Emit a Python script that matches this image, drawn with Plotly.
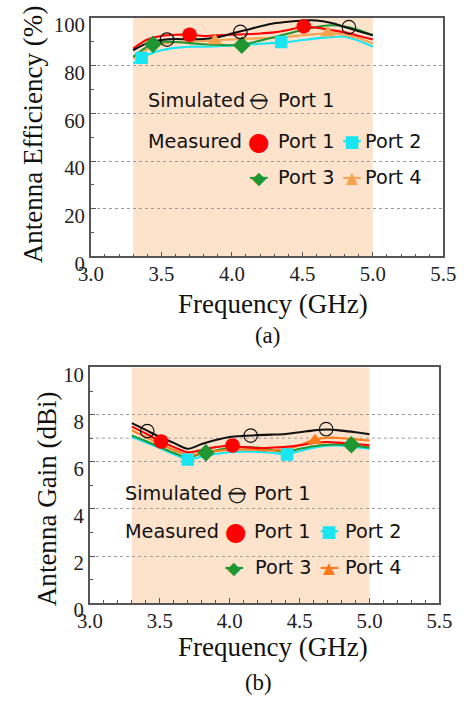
import plotly.graph_objects as go

# ---------------- data ----------------
freq = [3.3, 3.4, 3.5, 3.6, 3.7, 3.8, 3.9, 4.0, 4.1, 4.2, 4.3, 4.4, 4.5, 4.6, 4.7, 4.8, 4.9, 5.0]

eff_sim = [86.5, 89.5, 90.8, 91.2, 91.0, 91.2, 92.0, 93.5, 95.0, 96.5, 97.8, 98.5, 99.0, 99.0, 98.0, 96.3, 94.5, 92.8]
eff_p1 = [87.2, 91.0, 92.5, 93.0, 93.0, 92.5, 92.8, 93.0, 93.2, 93.5, 94.0, 95.0, 96.3, 96.0, 95.0, 94.0, 92.5, 91.0]
eff_p2 = [81.0, 84.5, 86.5, 87.5, 88.0, 88.0, 88.2, 88.5, 88.8, 89.2, 89.6, 90.0, 90.8, 91.5, 92.0, 92.2, 90.5, 88.0]
eff_p3 = [83.7, 88.0, 90.0, 90.0, 89.5, 89.0, 88.8, 88.6, 89.2, 90.5, 92.0, 93.5, 95.0, 96.3, 97.0, 96.5, 95.0, 92.8]
eff_p4 = [83.0, 87.0, 89.0, 89.8, 90.0, 90.4, 90.8, 91.0, 91.3, 91.5, 91.8, 92.2, 92.8, 93.3, 93.7, 93.0, 91.5, 89.3]

eff_sim_mk_f = [3.54, 4.06, 4.83]; eff_sim_mk = [91.0, 94.2, 96.2]
eff_p1_mk_f = [3.70, 4.51]; eff_p1_mk = [93.0, 96.5]
eff_p2_mk_f = [3.36, 4.35]; eff_p2_mk = [83.3, 90.0]
eff_p3_mk_f = [3.44, 4.07]; eff_p3_mk = [89.0, 88.6]
eff_p4_mk_f = [3.88, 4.68]; eff_p4_mk = [90.4, 93.7]

gain_sim = [7.64, 7.35, 7.05, 6.80, 6.55, 6.75, 6.92, 7.05, 7.10, 7.13, 7.15, 7.18, 7.25, 7.33, 7.37, 7.32, 7.25, 7.17]
gain_p1 = [7.49, 7.20, 6.88, 6.62, 6.40, 6.50, 6.62, 6.69, 6.62, 6.58, 6.60, 6.63, 6.70, 6.80, 6.84, 6.80, 6.75, 6.70]
gain_p2 = [7.05, 6.82, 6.58, 6.32, 6.10, 6.22, 6.33, 6.40, 6.43, 6.42, 6.38, 6.32, 6.45, 6.60, 6.68, 6.68, 6.62, 6.55]
gain_p3 = [7.12, 6.88, 6.62, 6.38, 6.18, 6.35, 6.48, 6.58, 6.62, 6.60, 6.50, 6.42, 6.55, 6.66, 6.72, 6.73, 6.68, 6.60]
gain_p4 = [7.33, 7.05, 6.75, 6.50, 6.28, 6.35, 6.45, 6.50, 6.52, 6.50, 6.48, 6.52, 6.70, 6.92, 7.02, 7.00, 6.95, 6.90]

gain_sim_mk_f = [3.41, 4.15, 4.69]; gain_sim_mk = [7.30, 7.11, 7.38]
gain_p1_mk_f = [3.51, 4.02]; gain_p1_mk = [6.86, 6.69]
gain_p2_mk_f = [3.70, 4.41]; gain_p2_mk = [6.09, 6.31]
gain_p3_mk_f = [3.83, 4.87]; gain_p3_mk = [6.38, 6.72]
gain_p4_mk_f = [4.61]; gain_p4_mk = [6.90]

band = [3.3, 5.0]
x_ticks = [3.0, 3.5, 4.0, 4.5, 5.0, 5.5]
x_ticklabels = ["3.0", "3.5", "4.0", "4.5", "5.0", "5.5"]

# ---------------- styling ----------------
PAD = 8            # page body margin
SX, SY = 0.962, 0.975   # observed capture scaling
S = SX
W, H = 469, 712
C_SIM = "#111111"
C_P1 = "#FF0000"
C_P2 = "#19E6F0"
C_P3 = "#1E9632"
C_P4_A = "#F7A24E"
C_P4_B = "#FF7A1A"
SHADE = "#FDE3CC"
AX = "#555555"
SERIF = "Liberation Serif"
SANS = "DejaVu Sans"


def px(x):
    return (x / SX - PAD) / W


def py(y):
    return 1 - (y / SY - PAD) / H


def fs(v):
    return v / S


fig = go.Figure()


def add_set(xa, ya, series, markers):
    for (vals, col) in series:
        fig.add_trace(go.Scatter(x=freq, y=vals, mode="lines", xaxis=xa, yaxis=ya,
                                 line=dict(color=col, width=fs(2), shape="spline", smoothing=0.8),
                                 showlegend=False, hoverinfo="skip"))
    for (mf, mv, col, sym, size, hollow) in markers:
        fig.add_trace(go.Scatter(x=mf, y=mv, mode="markers", xaxis=xa, yaxis=ya,
                                 marker=dict(symbol=sym, size=fs(size),
                                             color="rgba(0,0,0,0)" if hollow else col,
                                             line=dict(color=col, width=1.2 if hollow else 0)),
                                 showlegend=False, hoverinfo="skip"))


add_set("x", "y",
        [(eff_p2, C_P2), (eff_p4, C_P4_A), (eff_p3, C_P3), (eff_p1, C_P1), (eff_sim, C_SIM)],
        [(eff_p2_mk_f, eff_p2_mk, C_P2, "square", 12, False),
         (eff_p4_mk_f, eff_p4_mk, C_P4_A, "triangle-up", 13, False),
         (eff_p3_mk_f, eff_p3_mk, C_P3, "diamond", 13, False),
         (eff_p1_mk_f, eff_p1_mk, C_P1, "circle", 14, False),
         (eff_sim_mk_f, eff_sim_mk, C_SIM, "circle", 13, True)])

add_set("x2", "y2",
        [(gain_p2, C_P2), (gain_p3, C_P3), (gain_p4, C_P4_B), (gain_p1, C_P1), (gain_sim, C_SIM)],
        [(gain_p2_mk_f, gain_p2_mk, C_P2, "square", 12, False),
         (gain_p3_mk_f, gain_p3_mk, C_P3, "diamond", 13, False),
         (gain_p4_mk_f, gain_p4_mk, C_P4_B, "triangle-up", 13, False),
         (gain_p1_mk_f, gain_p1_mk, C_P1, "circle", 14, False),
         (gain_sim_mk_f, gain_sim_mk, C_SIM, "circle", 13, True)])

xa_common = dict(range=[3.0, 5.5], tickvals=x_ticks, ticktext=x_ticklabels,
                 ticks="inside", ticklen=5, tickcolor=AX, tickwidth=1,
                 minor=dict(ticks="inside", ticklen=3, dtick=0.1, tickcolor=AX, showgrid=False),
                 showline=True, linecolor=AX, linewidth=1.6, mirror=True,
                 showgrid=False, zeroline=False, ticklabelstandoff=-2,
                 tickfont=dict(family=SERIF, size=fs(20), color="#222"))
ya_common = dict(ticks="inside", ticklen=5, tickcolor=AX, tickwidth=1,
                 showline=True, linecolor=AX, linewidth=1.6, mirror=True,
                 showgrid=True, gridcolor="#9a9a9a", griddash="dot", gridwidth=1,
                 zeroline=False, ticklabelshift=7,
                 tickfont=dict(family=SERIF, size=fs(20), color="#222"))

fig.update_layout(
    width=W, height=H, margin=dict(l=0, r=0, t=0, b=0),
    paper_bgcolor="white", plot_bgcolor="white",
    xaxis=dict(domain=[px(87), px(446)], anchor="y", **xa_common),
    yaxis=dict(domain=[py(261), py(21)], anchor="x", range=[0, 100], dtick=20,
               minor=dict(ticks="inside", ticklen=3, dtick=10, tickcolor=AX, showgrid=False),
               **ya_common),
    xaxis2=dict(domain=[px(86), px(442)], anchor="y2", **xa_common),
    yaxis2=dict(domain=[py(610.5), py(373)], anchor="x2", range=[0, 10], dtick=2,
                minor=dict(ticks="inside", ticklen=3, dtick=1, tickcolor=AX, showgrid=False),
                **ya_common),
)

shapes = [
    dict(type="rect", xref="x", yref="y domain", x0=band[0], x1=band[1], y0=0, y1=1,
         fillcolor=SHADE, line=dict(width=0), layer="below"),
    dict(type="rect", xref="x2", yref="y2 domain", x0=band[0], x1=band[1], y0=0, y1=1,
         fillcolor=SHADE, line=dict(width=0), layer="below"),
    dict(type="line", xref="x2 domain", yref="y2", x0=0, x1=1, y0=7, y1=7,
         line=dict(color="#9a9a9a", width=1, dash="dot"), layer="below"),
]

ann = []


def text(x, y, s, size=18.5, family=SANS, xanchor="left", color="#111", angle=0):
    ann.append(dict(x=px(x), y=py(y), xref="paper", yref="paper", text=s, showarrow=False,
                    xanchor=xanchor, yanchor="middle", textangle=angle,
                    font=dict(family=family, size=fs(size), color=color)))


def symbol(cx, y, glyph, col, gsize, half=9):
    shapes.append(dict(type="line", xref="paper", yref="paper", x0=px(cx - half), x1=px(cx + half),
                       y0=py(y), y1=py(y), line=dict(color=col, width=fs(2))))
    text(cx, y, glyph, size=gsize, family=SANS, xanchor="center", color=col)


# axis titles and captions
text(28, 138, "Antenna Efficiency (%)", size=26, family=SERIF, xanchor="center", angle=-90)
text(273, 309, "Frequency (GHz)", size=26, family=SERIF, xanchor="center")
text(267, 341, "(a)", size=22, family=SERIF, xanchor="center")
text(43, 505, "Antenna Gain (dBi)", size=26, family=SERIF, xanchor="center", angle=-90)
text(272, 655, "Frequency (GHz)", size=26, family=SERIF, xanchor="center")
text(258, 690, "(b)", size=22, family=SERIF, xanchor="center")

# legend (a)
text(143, 104, "Simulated"); symbol(258, 104, "○", C_SIM, 20); text(276, 104, "Port 1")
text(143, 145, "Measured"); symbol(258, 145, "●", C_P1, 24); text(276, 145, "Port 1")
symbol(353, 145, "■", C_P2, 16); text(364, 145, "Port 2")
symbol(258, 182, "◆", C_P3, 17); text(276, 182, "Port 3")
symbol(353, 182, "▲", C_P4_A, 15); text(364, 182, "Port 4")

# legend (b)
text(120, 500, "Simulated"); symbol(236, 500, "○", C_SIM, 20); text(251, 500, "Port 1")
text(120, 538, "Measured"); symbol(235, 538, "●", C_P1, 24); text(251, 538, "Port 1")
symbol(330, 538, "■", C_P2, 16); text(344, 538, "Port 2")
symbol(233, 575, "◆", C_P3, 17); text(252, 575, "Port 3")
symbol(330, 575, "▲", C_P4_B, 15); text(344, 575, "Port 4")

fig.update_layout(shapes=shapes, annotations=ann)

fig.write_html("out.html")
